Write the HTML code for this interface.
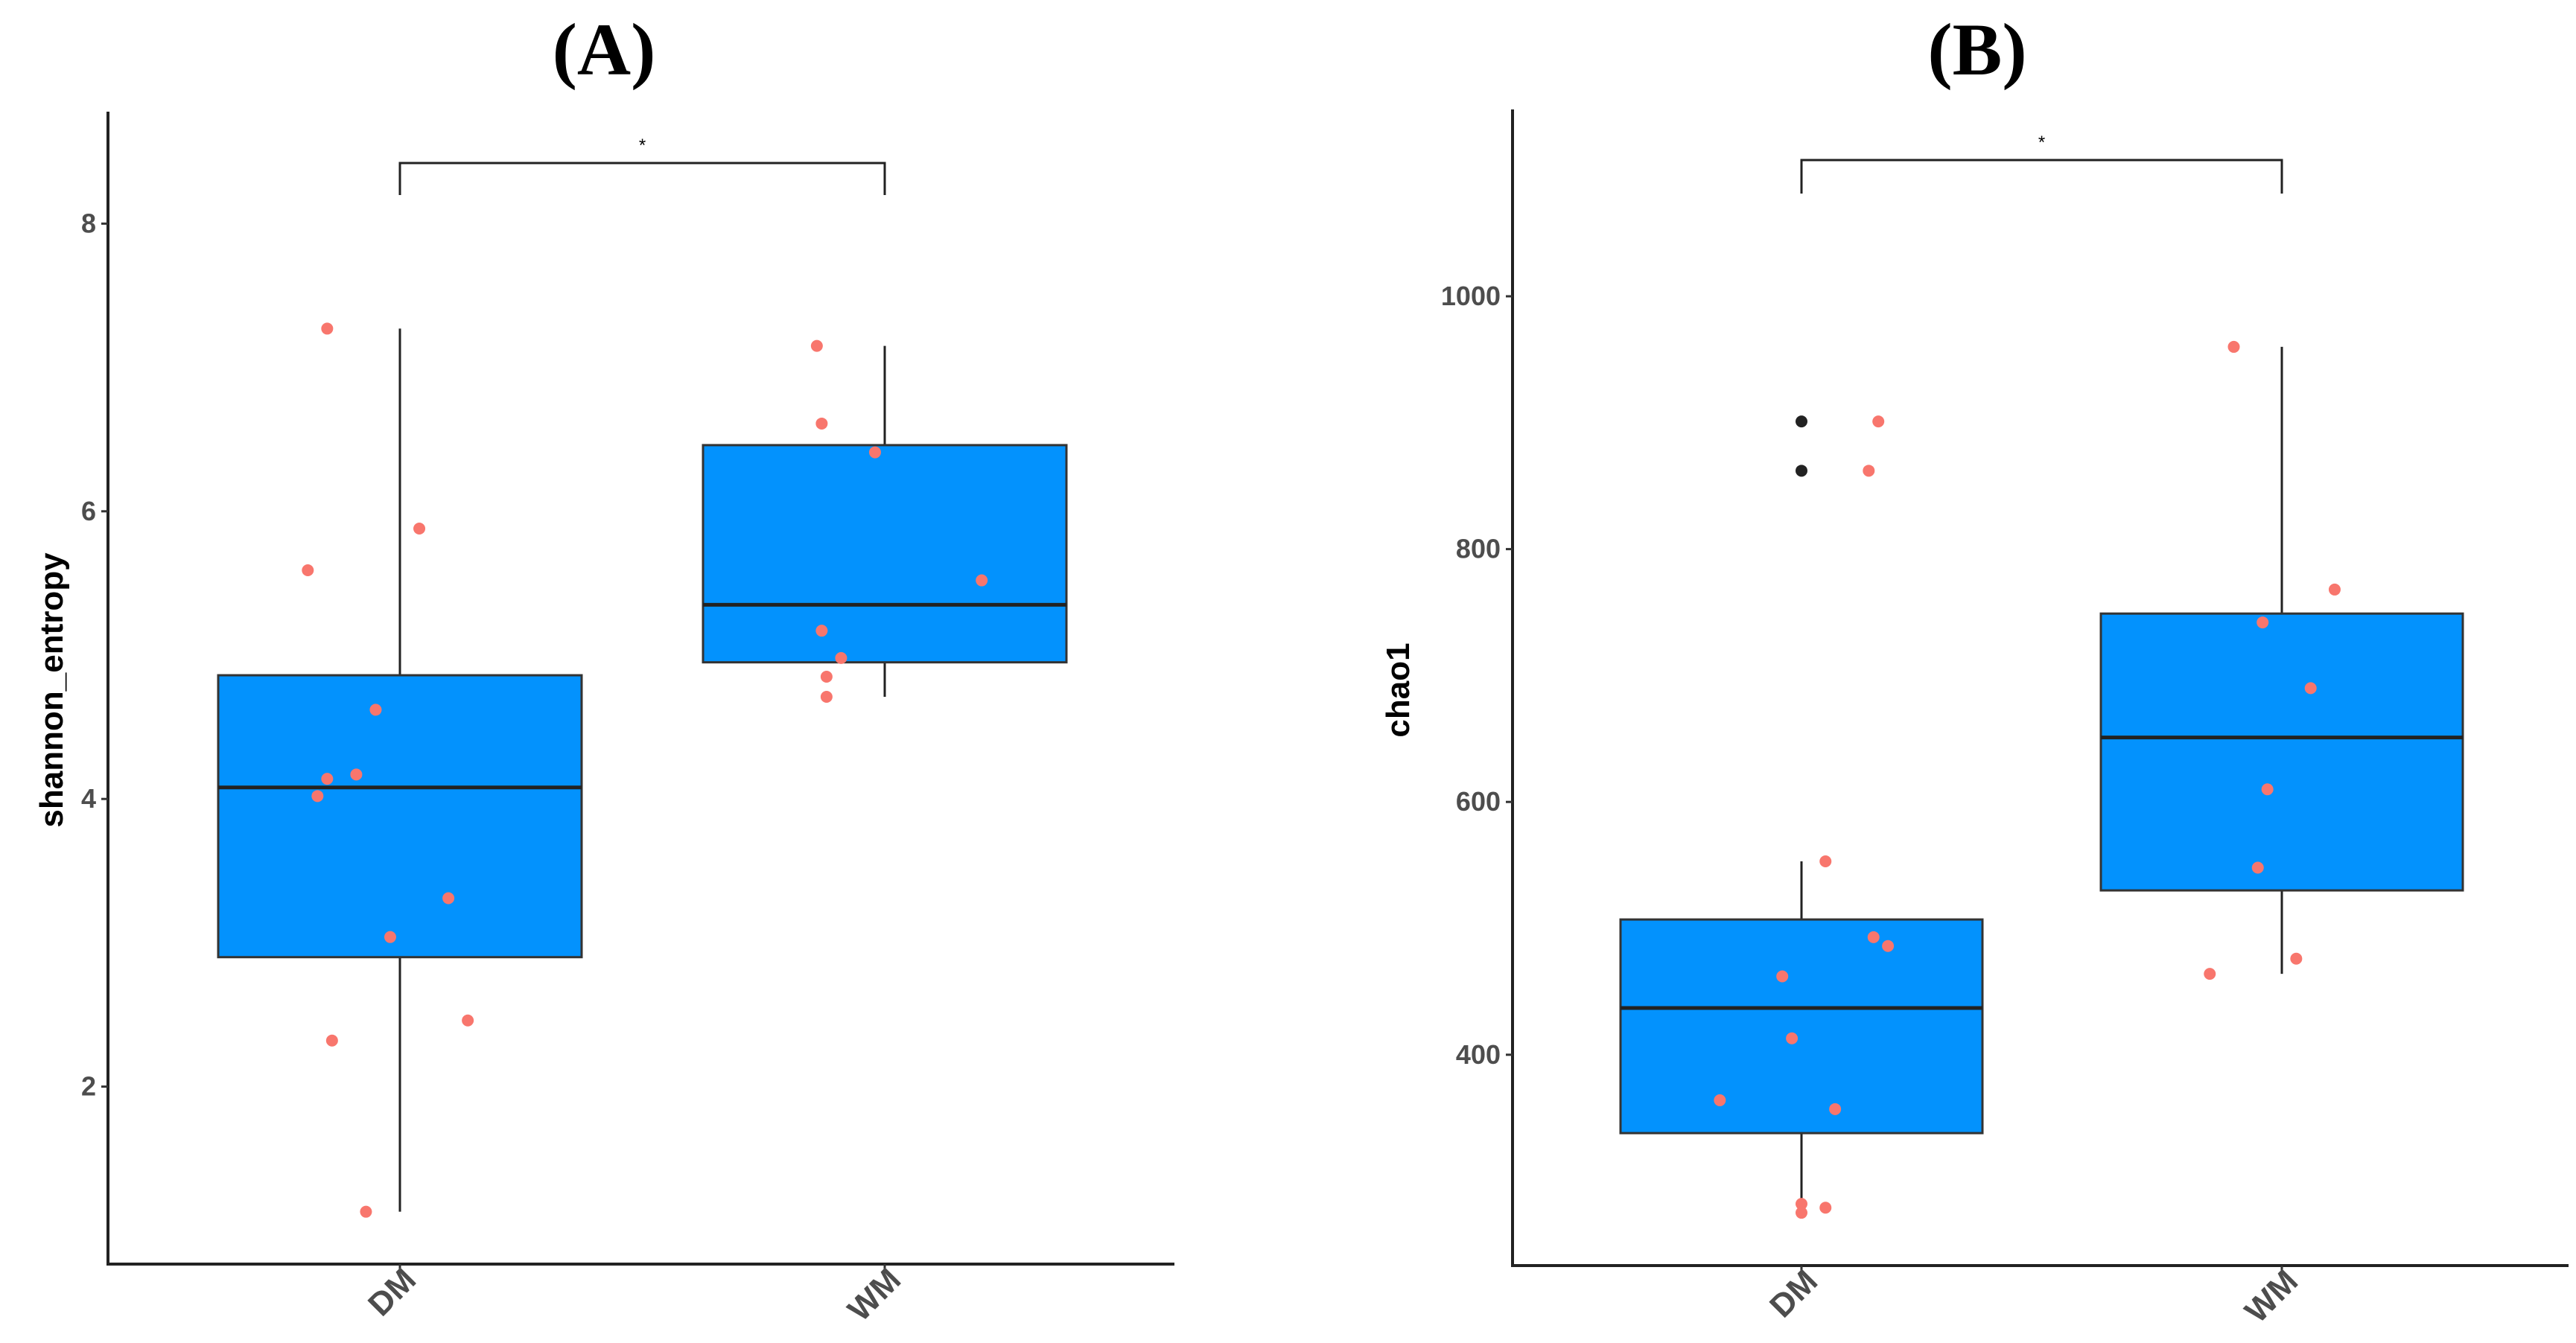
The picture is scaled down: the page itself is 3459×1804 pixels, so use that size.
<!DOCTYPE html>
<html><head><meta charset="utf-8"><style>
html,body{margin:0;padding:0;background:#fff;}
svg{display:block;}
</style></head><body>
<svg id="chart" width="3459" height="1804" viewBox="0 0 3459 1804" xmlns="http://www.w3.org/2000/svg"></svg>
<script>
// ---- Panel A data (shannon_entropy) ----
const categories = ["DM", "WM"];
const aTicks = [2, 4, 6, 8];
const aBoxMin = [1.13, 4.71];
const aBoxQ1 = [2.90, 4.95];
const aBoxMed = [4.08, 5.35];
const aBoxQ3 = [4.86, 6.46];
const aBoxMax = [7.27, 7.15];
const aDMValues = [7.27, 5.59, 5.88, 4.62, 4.14, 4.17, 4.02, 3.31, 3.04, 2.46, 2.32, 1.13];
const aDMJitter = [-0.15, -0.19, 0.04, -0.05, -0.15, -0.09, -0.17, 0.10, -0.02, 0.14, -0.14, -0.07];
const aWMValues = [7.15, 6.61, 6.41, 5.52, 5.17, 4.98, 4.85, 4.71];
const aWMJitter = [-0.14, -0.13, -0.02, 0.20, -0.13, -0.09, -0.12, -0.12];
// ---- Panel B data (chao1) ----
const bTicks = [400, 600, 800, 1000];
const bBoxMin = [278, 464];
const bBoxQ1 = [338, 530];
const bBoxMed = [437, 651];
const bBoxQ3 = [507, 749];
const bBoxMax = [553, 960];
const bOutliers = [901, 862];
const bDMValues = [901, 862, 553, 493, 486, 462, 413, 364, 357, 282, 275, 279];
const bDMJitter = [0.16, 0.14, 0.05, 0.15, 0.18, -0.04, -0.02, -0.17, 0.07, 0.00, 0.00, 0.05];
const bWMValues = [960, 768, 742, 690, 610, 548, 464, 476];
const bWMJitter = [-0.10, 0.11, -0.04, 0.06, -0.03, -0.05, -0.15, 0.03];

const NS = "http://www.w3.org/2000/svg";
const svg = document.getElementById("chart");
function mk(tag, attrs, parent) {
  const e = document.createElementNS(NS, tag);
  for (const k in attrs) e.setAttribute(k, attrs[k]);
  (parent || svg).appendChild(e);
  return e;
}

function panel(cfg) {
  const g = mk("g", {});
  
  
  const y = v => cfg.y0 + (cfg.v0 - v) * cfg.k;
  const x = (i, j) => cfg.cx[0] + (i + (j || 0)) * (cfg.cx[1] - cfg.cx[0]);
  const t = mk("text", {x: cfg.titleX, y: 100, "text-anchor": "middle", "font-family": "Liberation Serif, serif", "font-weight": "bold", "font-size": 100, fill: "#000"}, g);
  t.textContent = cfg.title;
  
  
  const ya = mk("line", {x1: cfg.ax, y1: cfg.axTop, x2: cfg.ax, y2: cfg.axBot, stroke: "#222", "stroke-width": 4}, g);
  
  
  const xa = mk("line", {x1: cfg.ax - 2, y1: cfg.axBot, x2: cfg.axRight, y2: cfg.axBot, stroke: "#222", "stroke-width": 4}, g);
  
  
  cfg.ticks.forEach(v => {
    mk("line", {x1: cfg.ax - 9, y1: y(v), x2: cfg.ax, y2: y(v), stroke: "#333", "stroke-width": 3}, g);
    const tl = mk("text", {x: cfg.ax - 16, y: y(v) + 12, "text-anchor": "end", "font-family": "Liberation Sans, sans-serif", "font-weight": "bold", "font-size": 36, fill: "#4d4d4d"}, g);
    tl.textContent = v;
    
    
  });
  const yt = mk("text", {x: 0, y: 0, "text-anchor": "middle", "font-family": "Liberation Sans, sans-serif", "font-weight": "bold", "font-size": 44, fill: "#000", transform: `translate(${cfg.ylabX},927) rotate(-90)`}, g);
  yt.textContent = cfg.ylabel;
  
  
  categories.forEach((c, i) => {
    mk("line", {x1: x(i), y1: cfg.axBot, x2: x(i), y2: cfg.axBot + 9, stroke: "#333", "stroke-width": 3}, g);
    const xl = mk("text", {x: 0, y: 0, "text-anchor": "end", "font-family": "Liberation Sans, sans-serif", "font-weight": "bold", "font-size": 44, fill: "#4d4d4d", transform: `translate(${x(i) + 24},${cfg.axBot + 24}) rotate(-45)`}, g);
    xl.textContent = c;
    
    
    const w = mk("line", {x1: x(i), y1: y(cfg.max[i]), x2: x(i), y2: y(cfg.min[i]), stroke: "#222", "stroke-width": 3}, g);
    
    
    const hw = cfg.hw;
    const b = mk("rect", {x: x(i) - hw, y: y(cfg.q3[i]), width: 2 * hw, height: y(cfg.q1[i]) - y(cfg.q3[i]), fill: "#0392fd", stroke: "#333", "stroke-width": 3}, g);
    
    
    const m = mk("line", {x1: x(i) - hw, y1: y(cfg.med[i]), x2: x(i) + hw, y2: y(cfg.med[i]), stroke: "#222", "stroke-width": 5}, g);
    
    
  });
  (cfg.outliers || []).forEach(v => {
    const o = mk("circle", {cx: x(0), cy: y(v), r: 8, fill: "#222"}, g);
    
    
  });
  [[cfg.dmV, cfg.dmJ, 0], [cfg.wmV, cfg.wmJ, 1]].forEach(([vals, jit, i]) => {
    vals.forEach((v, k) => {
      const p = mk("circle", {cx: x(i, jit[k]), cy: y(v), r: 8, fill: "#f8766d"}, g);
      
      
    });
  });
  const br = mk("path", {d: `M${x(0)},${cfg.brBot} V${cfg.brTop} H${x(1)} V${cfg.brBot}`, fill: "none", stroke: "#222", "stroke-width": 3}, g);
  
  
  const st = mk("text", {x: (x(0) + x(1)) / 2, y: cfg.brTop - 16, "text-anchor": "middle", "font-family": "Liberation Sans, sans-serif", "font-size": 24, fill: "#000"}, g);
  st.textContent = "*";
  
  
}

panel({name: "panel-a", title: "(A)", titleX: 811, ylabel: "shannon_entropy", ylabX: 84,
  ax: 145, axTop: 150, axBot: 1698, axRight: 1577, cx: [537, 1188], hw: 244,
  y0: 300.4, v0: 8, k: 193.2, ticks: aTicks,
  min: aBoxMin, q1: aBoxQ1, med: aBoxMed, q3: aBoxQ3, max: aBoxMax,
  dmV: aDMValues, dmJ: aDMJitter, wmV: aWMValues, wmJ: aWMJitter,
  brTop: 219, brBot: 262});
panel({name: "panel-b", title: "(B)", titleX: 2655, ylabel: "chao1", ylabX: 1892,
  ax: 2031, axTop: 147, axBot: 1700, axRight: 3449, cx: [2419, 3064], hw: 243,
  y0: 398, v0: 1000, k: 1.698, ticks: bTicks,
  min: bBoxMin, q1: bBoxQ1, med: bBoxMed, q3: bBoxQ3, max: bBoxMax, outliers: bOutliers,
  dmV: bDMValues, dmJ: bDMJitter, wmV: bWMValues, wmJ: bWMJitter,
  brTop: 215, brBot: 260});
</script>
</body></html>
